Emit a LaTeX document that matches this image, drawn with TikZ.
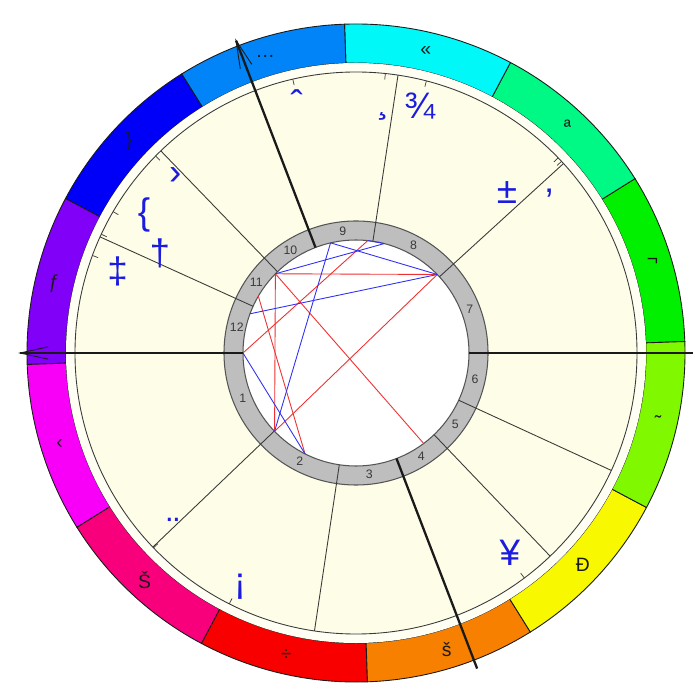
\documentclass[tikz,border=0pt]{standalone}
\usepackage{fontspec}
\setmainfont{Liberation Sans}
\usetikzlibrary{arrows.meta}
\definecolor{cream}{HTML}{FEFDE7}
\definecolor{creamlt}{HTML}{FFFFF3}
\definecolor{ringgray}{HTML}{BEBEBE}
\definecolor{ringedge}{HTML}{555555}
\definecolor{ink}{HTML}{1A1A1A}
\definecolor{inkgray}{HTML}{3A3A3A}
\definecolor{glyphblue}{HTML}{1C1CE0}
\definecolor{aspred}{HTML}{F03030}
\definecolor{aspblue}{HTML}{3030F0}
\definecolor{sgGreen}{HTML}{00F000}
\definecolor{sgSpring}{HTML}{00F884}
\definecolor{sgCyan}{HTML}{00F8F8}
\definecolor{sgAzure}{HTML}{0084F8}
\definecolor{sgBlue}{HTML}{0000F8}
\definecolor{sgViolet}{HTML}{8000F8}
\definecolor{sgMagenta}{HTML}{F800F8}
\definecolor{sgRose}{HTML}{F8007C}
\definecolor{sgRed}{HTML}{F80000}
\definecolor{sgOrange}{HTML}{F88000}
\definecolor{sgYellow}{HTML}{F8F800}
\definecolor{sgLime}{HTML}{80F800}
\tikzset{
  signseg/.style={draw=ink,line width=0.5pt},
  signlbl/.style={font=\fontsize{11}{11}\selectfont,text=ink,inner sep=0pt},
  cuspline/.style={draw=inkgray,line width=0.5pt},
  axisline/.style={draw=ink,line width=1.3pt},
  axisarr/.style={axisline,-{Straight Barb[length=16pt,width=7pt,line width=0.5pt]}},
  housenum/.style={font=\fontsize{7}{7}\selectfont,text=inkgray,inner sep=0pt},
  planet/.style={font=\fontsize{21}{21}\selectfont,text=glyphblue,inner sep=0pt},
  degtick/.style={draw=inkgray,line width=0.4pt},
  hardasp/.style={draw=aspred,line width=0.5pt},
  softasp/.style={draw=aspblue,line width=0.5pt}
}

\begin{document}
\begin{tikzpicture}[scale=0.02]
  \useasboundingbox[fill=white] (-356,-347) rectangle (344,353);
  % zodiac ring
  \foreach \col/\sym [count=\k from 0] in {sgGreen/¬, sgSpring/ª, sgCyan/«, sgAzure/…,
      sgBlue/\}, sgViolet/ƒ, sgMagenta/‹, sgRose/Š, sgRed/÷, sgOrange/š, sgYellow/Ð, sgLime/˜}{
    \pgfmathsetmacro{\a}{2+30*\k}
    \pgfmathsetmacro{\b}{\a+30}
    \pgfmathsetmacro{\m}{\a+15}
    \filldraw[signseg,fill=\col] (\a:290) arc[start angle=\a,end angle=\b,radius=290]
      -- (\b:329) arc[start angle=\b,end angle=\a,radius=329] -- cycle;
    \node[signlbl] (sign\k) at (\m:310) {\sym};
  }
  \fill[creamlt] (0,0) circle[radius=290];
  \filldraw[fill=cream,draw=inkgray,line width=0.5pt] (0,0) circle[radius=281];
  % house ring
  \filldraw[fill=ringgray,draw=ringedge,line width=0.6pt] (0,0) circle[radius=132];
  \filldraw[fill=white,draw=ringedge,line width=0.6pt] (0,0) circle[radius=113];
  \foreach \c in {223.7,261.5,313.7,335.3,42.4,81.4,134,155.6}
    \draw[cuspline] (\c:113) -- (\c:281);
  \foreach \h/\m in {1/201.8,2/242.6,3/276.2,4/302.3,5/324.5,6/347.6,
      7/21.2,8/61.9,9/96.2,10/122.5,11/144.8,12/167.8}
    \node[housenum] (house\h) at (\m:122) {\h};
  % planets
  \coordinate (asc) at (180:113);
  \foreach \nm/\lon/\ang/\rad/\sym in {caret/103/103.3/257/ˆ, cedil/84/83.5/238/¸,
      frac/75.5/75.5/255/¾, pm/44/46.7/220/±, quote/43/39.7/251/‚,
      guil/135.5/135.6/253/›, brace/149.8/146.9/253/\{, dag/155/153/220/†,
      ddag/159.7/161/252/‡, uml/223.9/224.2/255/¨, excl/243.2/243.6/261/¡,
      yen/306.8/307.6/252/¥}{
    \coordinate (\nm) at (\lon:113);
    \draw[degtick] (\lon:275) -- (\lon:281);
    \node[planet] (\nm-sym) at (\ang:\rad) {\sym};
  }
  % aspects
  \draw[hardasp] (guil) -- (pm);
  \draw[hardasp] (guil) -- (uml);
  \draw[hardasp] (guil) -- (yen);
  \draw[hardasp] (pm) -- (uml);
  \draw[hardasp] (brace) -- (excl);
  \draw[hardasp] (cedil) -- (asc);
  \draw[softasp] (caret) -- (pm);
  \draw[softasp] (caret) -- (uml);
  \draw[softasp] (frac) -- (guil);
  \draw[softasp] (pm) -- (ddag);
  \draw[softasp] (asc) -- (excl);
  \draw[softasp] (cedil) -- (frac);
  % axes
  \draw[axisline] (0:113) -- (0:337);
  \draw[axisarr] (180:113) -- (180:338);
  \draw[axisarr] (111:113) -- (111:337);
  \draw[axisline] (291:113) -- (291:338);
\end{tikzpicture}
\end{document}
